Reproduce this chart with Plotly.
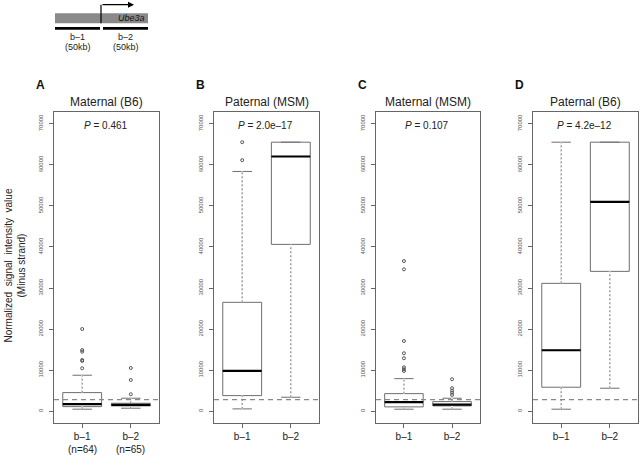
import plotly.graph_objects as go

W, H = 640, 456
FONT = "Arial, Liberation Sans, sans-serif"

# ---------------- data ----------------
panel_letters = ["A", "B", "C", "D"]
panel_titles = ["Maternal (B6)", "Paternal (MSM)", "Maternal (MSM)", "Paternal (B6)"]
p_values = ["0.461", "2.0e\u201317", "0.107", "4.2e\u201312"]
categories = ["b\u20131", "b\u20132"]
n_labels = ["(n=64)", "(n=65)"]          # shown under panel A only

q1 = [[1120, 1290], [3800, 40630], [1050, 1290], [5840, 34060]]
median = [[1700, 1530], [9800, 62040], [2190, 1610], [14840, 51000]]
q3 = [[4530, 1940], [26520, 65520], [4280, 2340], [31140, 65520]]
lower_fence = [[490, 730], [560, 3400], [490, 490], [490, 5600]]
upper_fence = [[8760, 3160], [58390, 65520], [7930, 3160], [65520, 65520]]
outliers = [
    [[20020, 14900, 14500, 12480, 12240, 10460], [10530, 7610, 4130]],
    [[65520, 61140], []],
    [[36570, 34550, 17100, 14110, 12900, 10700, 10220, 9800], [7790, 5600, 5010, 4530, 3970]],
    [[], []],
]
threshold = [2800, 2800, 2800, 2800]
y_ticks = [0, 10000, 20000, 30000, 40000, 50000, 60000, 70000]
y_range = [-2800, 72800]

# ---------------- layout geometry (pixels) ----------------
panel_px = [(54, 159), (214, 319), (376, 480), (533, 638)]
plot_top, plot_bottom = 112.3, 422.7
BOXW = 0.8
positions = [1, 2]

def px(x):
    return x / W

def py(y):
    return 1 - y / H

def label(x, y, text, size, color="#222222", **kw):
    fig.add_annotation(x=x, y=y, xref=kw.pop("xref", "paper"), yref="paper", text=text,
                       showarrow=False, xanchor=kw.pop("xanchor", "center"), yanchor="middle",
                       font=dict(size=size, color=color, family=FONT), **kw)

fig = go.Figure()
BOXLINE = "#6e6e6e"

for i in range(4):
    xa = "x" if i == 0 else f"x{i+1}"
    ya = "y" if i == 0 else f"y{i+1}"
    for j, pos in enumerate(positions):
        fig.add_trace(go.Box(
            x=[pos], q1=[q1[i][j]], median=[median[i][j]], q3=[q3[i][j]],
            lowerfence=[lower_fence[i][j]], upperfence=[upper_fence[i][j]],
            width=BOXW, whiskerwidth=0.5, fillcolor="white",
            line=dict(color=BOXLINE, width=1), boxpoints=False,
            xaxis=xa, yaxis=ya, showlegend=False, hoverinfo="skip",
        ))
        # dashed whiskers (cover solid whisker, redraw dotted)
        for a, b in [(lower_fence[i][j], q1[i][j]), (q3[i][j], upper_fence[i][j])]:
            if b - a > 0:
                fig.add_trace(go.Scatter(x=[pos, pos], y=[a, b], mode="lines",
                                         line=dict(color="white", width=2),
                                         xaxis=xa, yaxis=ya, showlegend=False, hoverinfo="skip"))
                fig.add_trace(go.Scatter(x=[pos, pos], y=[a, b], mode="lines",
                                         line=dict(color="#777777", width=1, dash="2px,2px"),
                                         xaxis=xa, yaxis=ya, showlegend=False, hoverinfo="skip"))
        # thick median
        fig.add_trace(go.Scatter(x=[pos - BOXW / 2, pos + BOXW / 2], y=[median[i][j]] * 2,
                                 mode="lines", line=dict(color="black", width=2.2),
                                 xaxis=xa, yaxis=ya, showlegend=False, hoverinfo="skip"))
        # outliers
        if outliers[i][j]:
            fig.add_trace(go.Scatter(x=[pos] * len(outliers[i][j]), y=outliers[i][j], mode="markers",
                                     marker=dict(symbol="circle-open", size=3,
                                                 color="#555555", line=dict(width=1)),
                                     xaxis=xa, yaxis=ya, showlegend=False, hoverinfo="skip"))

    x0, x1 = panel_px[i]
    axis_common = dict(showline=True, linecolor="#666666", linewidth=1, mirror=True,
                       showgrid=False, zeroline=False, ticks="outside", ticklen=4,
                       tickcolor="#666666", tickwidth=1)
    fig.layout[f"xaxis{'' if i == 0 else i+1}"] = dict(
        domain=[px(x0), px(x1)], anchor=ya, range=[0.42, 2.58],
        tickvals=positions, ticktext=categories,
        tickfont=dict(size=10, color="#222222", family=FONT), **axis_common)
    fig.layout[f"yaxis{'' if i == 0 else i+1}"] = dict(
        domain=[py(plot_bottom), py(plot_top)], anchor=xa, range=y_range,
        tickvals=y_ticks, ticktext=[str(v) for v in y_ticks], tickangle=-90,
        ticklabelstandoff=4,
        tickfont=dict(size=6, color="#555555", family=FONT), **axis_common)

    # dashed threshold line
    fig.add_shape(type="line", xref=f"{xa} domain", yref=ya, x0=0, x1=1,
                  y0=threshold[i], y1=threshold[i],
                  line=dict(color="#888888", width=1.2, dash="5px,4px"))

    cx = (x0 + x1) / 2
    label(px(cx), py(102.5), panel_titles[i], 12)
    label(px(cx - 1), py(125), f"<i>P</i> = {p_values[i]}", 10)
    label(px(x0 - 14), py(85), f"<b>{panel_letters[i]}</b>", 12, "#111111")

# n labels under panel A
for j, pos in enumerate(positions):
    label(pos, py(449), n_labels[j], 10, xref="x")

# y-axis title
label(px(14.5), py(266), "Normalized  signal  intensity  value<br>(Minus strand)", 10,
      textangle=-90)

# ---------------- gene diagram ----------------
fig.add_shape(type="rect", xref="paper", yref="paper",
              x0=px(55), x1=px(148), y0=py(23.3), y1=py(13.3),
              fillcolor="#8a8a8a", line=dict(width=0))
label(px(147), py(18.3), "<i>Ube3a</i>", 9, "#111111", xanchor="right")
fig.add_shape(type="line", xref="paper", yref="paper",
              x0=px(101), x1=px(101), y0=py(23.3), y1=py(4.7),
              line=dict(color="black", width=1.2))
fig.add_annotation(x=px(134), y=py(4.7), xref="paper", yref="paper",
                   ax=-33, ay=0, axref="pixel", ayref="pixel", text="",
                   showarrow=True, arrowhead=2, arrowsize=1, arrowwidth=1.2,
                   arrowcolor="black")
for (a, b), lab, cx in [((55, 100), "b\u20131", 77.5), ((103, 148), "b\u20132", 125.5)]:
    fig.add_shape(type="line", xref="paper", yref="paper",
                  x0=px(a), x1=px(b), y0=py(28.3), y1=py(28.3),
                  line=dict(color="black", width=2.8))
    label(px(cx), py(37), lab, 9)
    label(px(cx), py(47), "(50kb)", 9)

fig.update_layout(width=W, height=H, margin=dict(l=0, r=0, t=0, b=0),
                  paper_bgcolor="white", plot_bgcolor="white", showlegend=False,
                  font=dict(family=FONT))

fig.write_html("out.html", config={"displayModeBar": False},
               post_script="document.body.style.margin='0';")
